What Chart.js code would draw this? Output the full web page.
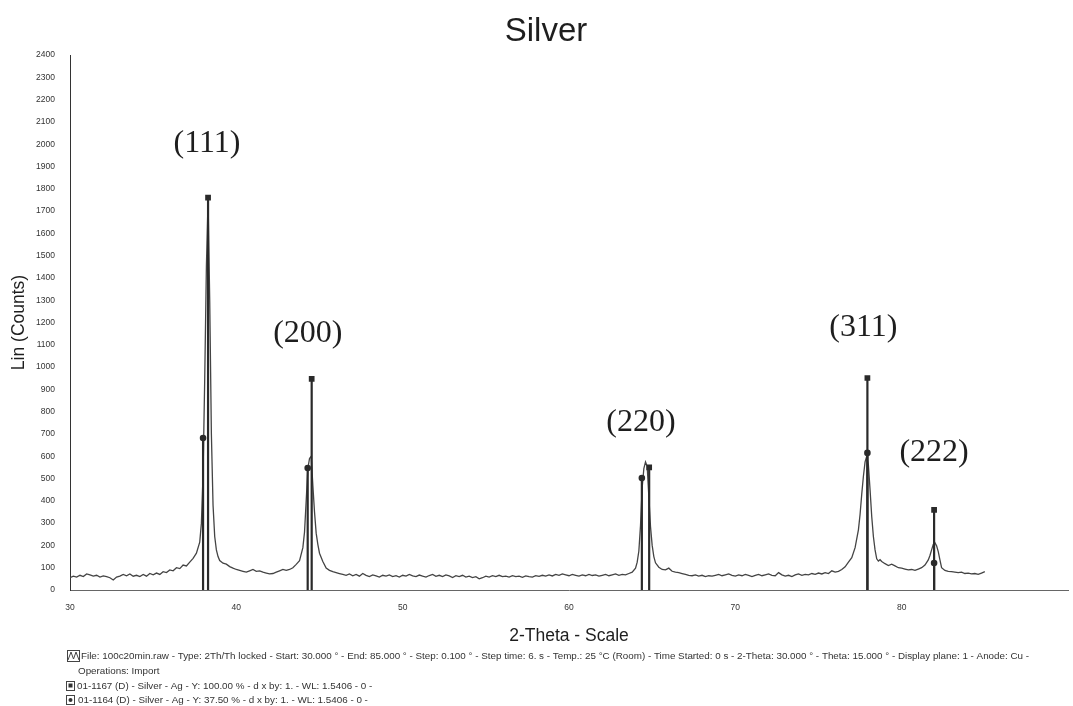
<!DOCTYPE html>
<html>
<head>
<meta charset="utf-8">
<title>Silver</title>
<script src="https://cdn.jsdelivr.net/npm/chart.js@4.4.1/dist/chart.umd.min.js"></script>
<style>
  html, body { margin: 0; padding: 0; background: #fff; }
  #wrap { width: 1073px; height: 706px; }
</style>
</head>
<body>
<div id="wrap"><canvas id="xrdChart" width="1073" height="706"></canvas></div>
<script>
const scanPoints = [
  [30.0,55],[30.2,62],[30.4,58],[30.6,66],[30.8,60],[31.0,72],[31.2,68],[31.4,62],[31.6,66],[31.8,58],
  [32.0,63],[32.2,60],[32.4,55],[32.6,45],[32.8,58],[33.0,62],[33.2,70],[33.4,64],[33.6,72],[33.8,62],
  [34.0,66],[34.2,60],[34.4,70],[34.6,62],[34.8,74],[35.0,68],[35.2,76],[35.4,70],[35.6,82],[35.8,78],
  [36.0,90],[36.2,86],[36.4,100],[36.6,96],[36.8,112],[37.0,108],[37.2,125],[37.4,142],[37.6,165],[37.8,215],
  [37.9,300],[38.0,520],[38.1,950],[38.2,1450],[38.3,1750],[38.4,1300],[38.5,700],[38.6,380],[38.7,240],[38.8,180],
  [38.9,150],[39.0,132],[39.2,120],[39.4,116],[39.6,105],[39.8,98],[40.0,92],[40.2,88],[40.4,84],[40.6,80],
  [40.8,86],[41.0,92],[41.2,84],[41.4,86],[41.6,80],[41.8,76],[42.0,72],[42.2,74],[42.4,80],[42.6,86],
  [42.8,92],[43.0,88],[43.2,92],[43.4,100],[43.6,115],[43.8,132],[44.0,190],[44.1,260],[44.2,400],[44.3,545],
  [44.4,590],[44.5,600],[44.6,470],[44.7,350],[44.8,255],[44.9,205],[45.0,165],[45.2,128],[45.4,98],[45.6,88],
  [45.8,82],[46.0,78],[46.2,74],[46.4,70],[46.6,66],[46.8,72],[47.0,64],[47.2,70],[47.4,62],[47.6,74],
  [47.8,66],[48.0,60],[48.2,68],[48.4,63],[48.6,58],[48.8,66],[49.0,62],[49.2,68],[49.4,60],[49.6,64],
  [49.8,58],[50.0,66],[50.2,62],[50.4,70],[50.6,63],[50.8,60],[51.0,67],[51.2,62],[51.4,58],[51.6,65],
  [51.8,70],[52.0,61],[52.2,66],[52.4,60],[52.6,68],[52.8,63],[53.0,56],[53.2,64],[53.4,60],[53.6,66],
  [53.8,58],[54.0,62],[54.2,56],[54.4,60],[54.6,50],[54.8,55],[55.0,62],[55.2,58],[55.4,64],[55.6,60],
  [55.8,66],[56.0,60],[56.2,62],[56.4,58],[56.6,64],[56.8,60],[57.0,62],[57.2,57],[57.4,63],[57.6,60],
  [57.8,58],[58.0,64],[58.2,61],[58.4,66],[58.6,62],[58.8,68],[59.0,63],[59.2,70],[59.4,66],[59.6,72],
  [59.8,68],[60.0,64],[60.2,70],[60.4,66],[60.6,62],[60.8,68],[61.0,64],[61.2,70],[61.4,65],[61.6,68],
  [61.8,62],[62.0,66],[62.2,70],[62.4,64],[62.6,68],[62.8,72],[63.0,66],[63.2,70],[63.4,68],[63.6,74],
  [63.8,80],[64.0,98],[64.1,125],[64.2,175],[64.3,290],[64.4,460],[64.5,545],[64.6,575],[64.7,555],[64.8,420],
  [64.9,285],[65.0,200],[65.1,150],[65.2,122],[65.4,102],[65.6,92],[65.8,90],[66.0,98],[66.2,84],[66.4,80],
  [66.6,78],[66.8,74],[67.0,70],[67.2,66],[67.4,64],[67.6,68],[67.8,62],[68.0,66],[68.2,60],[68.4,64],
  [68.6,62],[68.8,66],[69.0,70],[69.2,64],[69.4,68],[69.6,72],[69.8,66],[70.0,62],[70.2,68],[70.4,64],
  [70.6,70],[70.8,66],[71.0,60],[71.2,66],[71.4,70],[71.6,64],[71.8,68],[72.0,72],[72.2,66],[72.4,64],
  [72.6,78],[72.8,68],[73.0,62],[73.2,66],[73.4,60],[73.6,68],[73.8,72],[74.0,66],[74.2,70],[74.4,68],
  [74.6,74],[74.8,70],[75.0,76],[75.2,72],[75.4,78],[75.6,74],[75.8,86],[76.0,80],[76.2,84],[76.4,92],
  [76.6,104],[76.8,125],[77.0,145],[77.2,190],[77.4,270],[77.5,340],[77.6,430],[77.7,510],[77.8,575],[77.9,600],
  [78.0,560],[78.1,450],[78.2,330],[78.3,240],[78.4,180],[78.5,140],[78.6,130],[78.7,136],[78.8,128],[79.0,118],
  [79.2,110],[79.4,116],[79.6,108],[79.8,100],[80.0,98],[80.2,94],[80.4,90],[80.6,92],[80.8,88],[81.0,94],
  [81.2,100],[81.4,112],[81.6,135],[81.7,155],[81.8,180],[81.9,205],[82.0,212],[82.1,198],[82.2,172],[82.3,135],
  [82.4,100],[82.6,88],[82.8,84],[83.0,82],[83.2,80],[83.4,78],[83.6,80],[83.8,74],[84.0,76],[84.2,72],
  [84.4,74],[84.6,70],[84.8,76],[85.0,82]
];

// reference pattern sticks
const card1167Angles = [38.3, 44.53, 64.82, 77.94, 81.95];
const card1167Counts = [1760, 947, 550, 951, 359];
const card1164Angles = [38.0, 44.29, 64.38, 77.94, 81.95];
const card1164Counts = [682, 547, 502, 615, 121];

// peak labels (Miller indices) and where they sit in data space
const peakNames = ['(111)', '(200)', '(220)', '(311)', '(222)'];
const labelAngles = [38.24, 44.3, 64.33, 77.7, 81.95];
const labelCounts = [2003, 1151, 751, 1178, 617];

const yTicks = { min: 0, max: 2400, step: 100 };
const xTicks = { min: 30, max: 90, step: 10 };

const chartTitle = 'Silver';
const footerLines = [
  'File: 100c20min.raw - Type: 2Th/Th locked - Start: 30.000 \u00b0 - End: 85.000 \u00b0 - Step: 0.100 \u00b0 - Step time: 6. s - Temp.: 25 \u00b0C (Room) - Time Started: 0 s - 2-Theta: 30.000 \u00b0 - Theta: 15.000 \u00b0 - Display plane: 1 - Anode: Cu -',
  'Operations: Import',
  '01-1167 (D) - Silver - Ag - Y: 100.00 % - d x by: 1. - WL: 1.5406 - 0 -',
  '01-1164 (D) - Silver - Ag - Y: 37.50 % - d x by: 1. - WL: 1.5406 - 0 -'
];

const ink = '#1e1e1e';
const sans = '"Liberation Sans", Arial, sans-serif';

function sticks(angles, counts) {
  const pts = [];
  angles.forEach((a, i) => {
    pts.push({ x: a, y: 0 }, { x: a, y: counts[i] }, { x: a, y: null });
  });
  return pts;
}

const peakLabelPlugin = {
  id: 'peakLabels',
  afterDatasetsDraw(chart) {
    const { ctx, scales: { x, y } } = chart;
    ctx.save();
    ctx.font = '32px "Liberation Serif", "Times New Roman", serif';
    ctx.fillStyle = ink;
    ctx.textAlign = 'center';
    ctx.textBaseline = 'middle';
    peakNames.forEach((name, i) => {
      ctx.fillText(name, x.getPixelForValue(labelAngles[i]), y.getPixelForValue(labelCounts[i]));
    });
    ctx.restore();
  }
};

// title + footer text block of the diffractometer printout
const printoutPlugin = {
  id: 'printout',
  afterDraw(chart) {
    const ctx = chart.ctx;
    ctx.save();
    ctx.fillStyle = ink;
    ctx.textAlign = 'center';
    ctx.textBaseline = 'middle';
    ctx.font = '33px ' + sans;
    ctx.fillText(chartTitle, 546, 32);

    ctx.textAlign = 'left';
    ctx.fillStyle = '#333';
    ctx.strokeStyle = '#444';
    ctx.lineWidth = 1;
    // fit the long first line to its width in the scan
    let size = 9;
    ctx.font = size + 'px ' + sans;
    size = size * 949 / ctx.measureText(footerLines[0]).width;
    ctx.font = size.toFixed(2) + 'px ' + sans;
    const ys = [656, 671, 686, 700];
    ctx.strokeRect(67.5, 650.5, 12, 11);
    ctx.beginPath();
    ctx.moveTo(68, 660); ctx.lineTo(71, 652); ctx.lineTo(73.5, 659); ctx.lineTo(76, 652); ctx.lineTo(79, 660);
    ctx.stroke();
    ctx.fillText(footerLines[0], 81, ys[0]);
    ctx.fillText(footerLines[1], 78, ys[1]);
    ctx.strokeRect(66.5, 681.5, 8, 9);
    ctx.fillRect(68.5, 683.5, 4, 4);
    ctx.fillText(footerLines[2], 77, ys[2]);
    ctx.strokeRect(66.5, 695.5, 8, 9);
    ctx.beginPath(); ctx.arc(70.5, 700, 2, 0, Math.PI * 2); ctx.fill();
    ctx.fillText(footerLines[3], 78, ys[3]);
    ctx.restore();
  }
};

const chart = new Chart(document.getElementById('xrdChart'), {
  type: 'line',
  data: {
    datasets: [
      {
        label: 'Scan',
        data: scanPoints.map(p => ({ x: p[0], y: p[1] })),
        borderColor: '#444',
        borderWidth: 1.3,
        pointRadius: 0,
        tension: 0,
        order: 3
      },
      {
        label: '01-1167',
        data: sticks(card1167Angles, card1167Counts),
        borderColor: '#2a2a2a',
        backgroundColor: '#2a2a2a',
        borderWidth: 2.2,
        spanGaps: false,
        pointStyle: 'rect',
        pointRadius: ctx => (ctx.raw && ctx.raw.y > 0 ? 2.5 : 0),
        order: 1
      },
      {
        label: '01-1164',
        data: sticks(card1164Angles, card1164Counts),
        borderColor: '#2a2a2a',
        backgroundColor: '#2a2a2a',
        borderWidth: 2.2,
        spanGaps: false,
        pointStyle: 'circle',
        pointRadius: ctx => (ctx.raw && ctx.raw.y > 0 ? 2.2 : 0),
        order: 2
      }
    ]
  },
  options: {
    responsive: false,
    animation: false,
    devicePixelRatio: 1,
    layout: { padding: { left: 0, right: 5, top: 55, bottom: 58 } },
    plugins: {
      legend: { display: false },
      tooltip: { enabled: false },
      title: { display: false }
    },
    scales: {
      x: {
        type: 'linear',
        min: xTicks.min,
        max: xTicks.max,
        grid: { display: false, drawTicks: false },
        border: { display: true, color: '#666', width: 1 },
        ticks: {
          stepSize: xTicks.step,
          padding: 13,
          color: '#333',
          font: { family: sans, size: 8.5 },
          callback: v => (v === xTicks.max ? '' : String(v))
        },
        title: {
          display: true,
          text: '2-Theta - Scale',
          color: ink,
          font: { family: sans, size: 17.5 },
          padding: { top: 0, bottom: 1 }
        },
        afterFit: s => { s.height = 58; s.paddingLeft = 0; s.paddingRight = 0; }
      },
      y: {
        min: yTicks.min,
        max: yTicks.max,
        grid: { display: false, drawTicks: false },
        border: { display: true, color: '#333', width: 1 },
        ticks: {
          stepSize: yTicks.step,
          autoSkip: false,
          padding: 15,
          color: '#333',
          font: { family: sans, size: 8.5 },
          callback: v => String(v)
        },
        title: {
          display: true,
          text: 'Lin (Counts)',
          color: ink,
          font: { family: sans, size: 17.5 },
          padding: { top: 9, bottom: 0 }
        },
        afterFit: s => { s.width = 70; s.paddingTop = 0; s.paddingBottom = 0; }
      }
    }
  },
  plugins: [peakLabelPlugin, printoutPlugin]
});
</script>
</body>
</html>
